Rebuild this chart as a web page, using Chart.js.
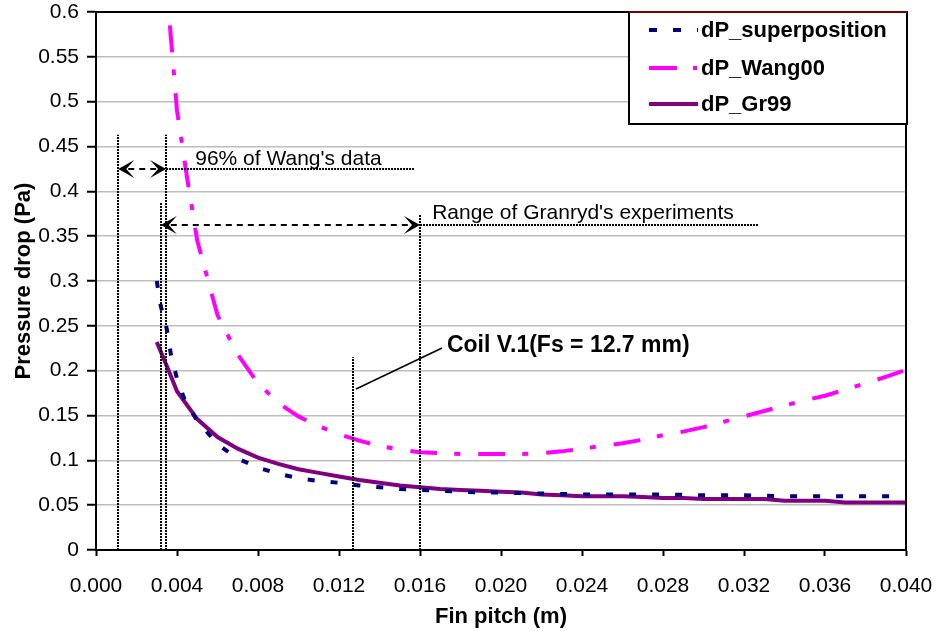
<!DOCTYPE html>
<html lang="en">
<head>
    <meta charset="UTF-8">
    <title>Pressure drop vs fin pitch</title>
    <script src="https://cdn.jsdelivr.net/npm/chart.js"></script>
    <style>
        body { margin: 0; background: #fff; }
        #wrap { width: 938px; height: 631px; }
    </style>
</head>
<body>
<div id="wrap"><canvas id="myChart" width="938" height="631"></canvas></div>

<script>
    // data
    const supX = [0.003, 0.0032, 0.0035, 0.0037, 0.004, 0.0044, 0.005, 0.006, 0.007, 0.008, 0.009, 0.010, 0.011, 0.012, 0.013, 0.014, 0.015, 0.016, 0.017, 0.018, 0.019, 0.020, 0.022, 0.024, 0.026, 0.028, 0.030, 0.032, 0.034, 0.036, 0.038, 0.040];
    const supY = [0.300, 0.272, 0.246, 0.218, 0.191, 0.166, 0.144, 0.118, 0.102, 0.092, 0.085, 0.080, 0.077, 0.075, 0.072, 0.070, 0.068, 0.067, 0.066, 0.065, 0.064, 0.064, 0.063, 0.062, 0.062, 0.062, 0.061, 0.061, 0.060, 0.060, 0.060, 0.060];

    const wangX = [0.00365, 0.004, 0.0045, 0.005, 0.006, 0.007, 0.008, 0.009, 0.010, 0.011, 0.012, 0.013, 0.014, 0.015, 0.016, 0.017, 0.018, 0.019, 0.020, 0.021, 0.022, 0.023, 0.024, 0.025, 0.026, 0.027, 0.028, 0.029, 0.030, 0.031, 0.032, 0.033, 0.034, 0.035, 0.036, 0.037, 0.038, 0.039, 0.040];
    const wangY = [0.585, 0.49, 0.415, 0.345, 0.262, 0.218, 0.186, 0.164, 0.149, 0.138, 0.129, 0.122, 0.116, 0.112, 0.109, 0.108, 0.107, 0.107, 0.107, 0.107, 0.108, 0.110, 0.113, 0.116, 0.119, 0.123, 0.128, 0.132, 0.137, 0.143, 0.149, 0.155, 0.161, 0.167, 0.172, 0.179, 0.186, 0.193, 0.201];

    const grX = [0.003, 0.0035, 0.004, 0.005, 0.006, 0.007, 0.008, 0.009, 0.010, 0.011, 0.012, 0.013, 0.014, 0.015, 0.016, 0.017, 0.018, 0.019, 0.020, 0.021, 0.022, 0.023, 0.024, 0.025, 0.026, 0.027, 0.028, 0.029, 0.030, 0.031, 0.032, 0.033, 0.034, 0.035, 0.036, 0.037, 0.038, 0.039, 0.040];
    const grY = [0.232, 0.205, 0.177, 0.146, 0.126, 0.113, 0.103, 0.096, 0.090, 0.086, 0.082, 0.078, 0.075, 0.072, 0.070, 0.068, 0.067, 0.066, 0.065, 0.064, 0.062, 0.061, 0.060, 0.060, 0.060, 0.059, 0.058, 0.058, 0.057, 0.057, 0.057, 0.057, 0.055, 0.055, 0.055, 0.053, 0.053, 0.053, 0.053];

    const seriesNames = ['dP_superposition', 'dP_Wang00', 'dP_Gr99'];

    // annotation lines: [x, top y]
    const markerLines = [[0.0011, 0.463], [0.0032, 0.388], [0.00346, 0.463], [0.0127, 0.215], [0.016, 0.374]];

    const FONT = "'Liberation Sans', Arial, sans-serif";

    function toPoints(xs, ys) {
        return xs.map((x, i) => ({ x: x, y: ys[i] }));
    }

    function arrowHead(ctx, x, y, dir) {
        // dir = -1 points left, 1 points right
        ctx.beginPath();
        ctx.moveTo(x, y);
        ctx.lineTo(x - dir * 16, y - 9);
        ctx.lineTo(x - dir * 8, y);
        ctx.lineTo(x - dir * 16, y + 9);
        ctx.closePath();
        ctx.fill();
    }

    const annotations = {
        id: 'annotations',
        afterDatasetsDraw(chart) {
            const ctx = chart.ctx;
            const xs = chart.scales.x, ys = chart.scales.y;
            const px = v => xs.getPixelForValue(v);
            const py = v => ys.getPixelForValue(v);
            ctx.save();
            ctx.strokeStyle = '#000';
            ctx.fillStyle = '#000';

            // vertical dotted lines
            ctx.lineWidth = 2;
            ctx.setLineDash([2, 1]);
            markerLines.forEach(m => {
                const x = Math.round(px(m[0]));
                ctx.beginPath();
                ctx.moveTo(x, py(0));
                ctx.lineTo(x, py(m[1]));
                ctx.stroke();
            });

            // dotted continuation lines
            const y1 = Math.round(py(0.425)), y2 = Math.round(py(0.363));
            ctx.beginPath();
            ctx.moveTo(px(0.00346), y1);
            ctx.lineTo(px(0.0157), y1);
            ctx.moveTo(px(0.016), y2);
            ctx.lineTo(px(0.0327), y2);
            ctx.stroke();

            // dashed double arrows
            ctx.setLineDash([6, 5]);
            ctx.beginPath();
            ctx.moveTo(px(0.0011) + 10, y1);
            ctx.lineTo(px(0.00346) - 10, y1);
            ctx.moveTo(px(0.0032) + 10, y2);
            ctx.lineTo(px(0.016) - 10, y2);
            ctx.stroke();
            ctx.setLineDash([]);
            arrowHead(ctx, px(0.0011), y1, -1);
            arrowHead(ctx, px(0.00346), y1, 1);
            arrowHead(ctx, px(0.0032), y2, -1);
            arrowHead(ctx, px(0.016), y2, 1);

            // coil leader line
            ctx.lineWidth = 1.5;
            ctx.beginPath();
            ctx.moveTo(px(0.01284), py(0.1796));
            ctx.lineTo(px(0.01709), py(0.2253));
            ctx.stroke();

            // texts
            ctx.textAlign = 'left';
            ctx.textBaseline = 'alphabetic';
            ctx.font = '21px ' + FONT;
            ctx.fillText("96% of Wang's data", px(0.0049), y1 - 4);
            ctx.fillText("Range of Granryd's experiments", px(0.0166), y2 - 6);
            ctx.font = 'bold 23px ' + FONT;
            ctx.fillText('Coil V.1(Fs = 12.7 mm)', px(0.01733), py(0.2208));
            ctx.restore();
        },
        afterDraw(chart) {
            const ctx = chart.ctx;
            const a = chart.chartArea;
            ctx.save();
            // plot frame
            ctx.strokeStyle = '#000';
            ctx.lineWidth = 2;
            ctx.strokeRect(a.left, a.top, a.right - a.left, a.bottom - a.top);

            // legend box
            const lx = 629, ly = 12, lw = 278, lh = 112;
            ctx.fillStyle = '#fff';
            ctx.fillRect(lx, ly, lw, lh);
            ctx.strokeRect(lx, ly, lw, lh);
            ctx.strokeStyle = '#800000';
            ctx.beginPath();
            ctx.moveTo(lx, ly);
            ctx.lineTo(lx + lw, ly);
            ctx.stroke();

            const rows = [30, 68, 104];
            const dashes = [[8, 16], [28, 16, 4, 10], []];
            chart.data.datasets.forEach((ds, i) => {
                ctx.strokeStyle = ds.borderColor;
                ctx.lineWidth = 4;
                ctx.setLineDash(dashes[i]);
                ctx.beginPath();
                ctx.moveTo(649, rows[i]);
                ctx.lineTo(698, rows[i]);
                ctx.stroke();
                ctx.setLineDash([]);
                ctx.fillStyle = '#000';
                ctx.font = 'bold 22px ' + FONT;
                ctx.textBaseline = 'middle';
                ctx.fillText(seriesNames[i], 701, rows[i] + 1);
            });
            ctx.restore();
        }
    };

    const ctx = document.getElementById('myChart').getContext('2d');
    const myChart = new Chart(ctx, {
        type: 'line',
        data: {
            datasets: [{
                label: seriesNames[0],
                data: toPoints(supX, supY),
                borderColor: '#000080',
                borderWidth: 4,
                borderDash: [7, 16],
                pointRadius: 0,
                fill: false
            }, {
                label: seriesNames[1],
                data: toPoints(wangX, wangY),
                borderColor: '#ff00ff',
                borderWidth: 4,
                borderDash: [27, 17, 6, 18],
                pointRadius: 0,
                fill: false
            }, {
                label: seriesNames[2],
                data: toPoints(grX, grY),
                borderColor: '#800080',
                borderWidth: 4,
                pointRadius: 0,
                fill: false
            }]
        },
        options: {
            responsive: false,
            animation: false,
            layout: { padding: { top: 12, right: 32, left: 0, bottom: 0 } },
            plugins: { legend: { display: false }, tooltip: { enabled: false } },
            scales: {
                x: {
                    type: 'linear',
                    min: 0,
                    max: 0.04,
                    afterFit: s => { s.height = 81; s.paddingRight = 0; s.paddingLeft = 0; },
                    ticks: {
                        stepSize: 0.004,
                        callback: v => v.toFixed(3),
                        color: '#000',
                        font: { family: FONT, size: 21 },
                        maxRotation: 0,
                        padding: 18
                    },
                    grid: { drawOnChartArea: false, drawTicks: true, tickLength: 6, tickColor: '#000', tickWidth: 2 },
                    border: { color: '#000', width: 2 },
                    title: {
                        display: true,
                        text: 'Fin pitch (m)',
                        color: '#000',
                        font: { family: FONT, size: 22, weight: 'bold' },
                        padding: { top: 4, bottom: 1 }
                    }
                },
                y: {
                    min: 0,
                    max: 0.6,
                    afterFit: s => { s.width = 96; s.paddingTop = 0; s.paddingBottom = 0; },
                    ticks: {
                        stepSize: 0.05,
                        callback: v => String(Number(v.toFixed(2))),
                        color: '#000',
                        font: { family: FONT, size: 21 },
                        padding: 8
                    },
                    grid: { color: '#bdbdbd', lineWidth: 1.5, borderDash: [2, 1], tickLength: 9, tickColor: '#000', tickWidth: 2, tickBorderDash: [] },
                    border: { color: '#000', width: 2 },
                    title: {
                        display: true,
                        text: 'Pressure drop (Pa)',
                        color: '#000',
                        font: { family: FONT, size: 22, weight: 'bold' },
                        padding: { top: 11, bottom: 0 }
                    }
                }
            }
        },
        plugins: [annotations]
    });
</script>

</body>
</html>
